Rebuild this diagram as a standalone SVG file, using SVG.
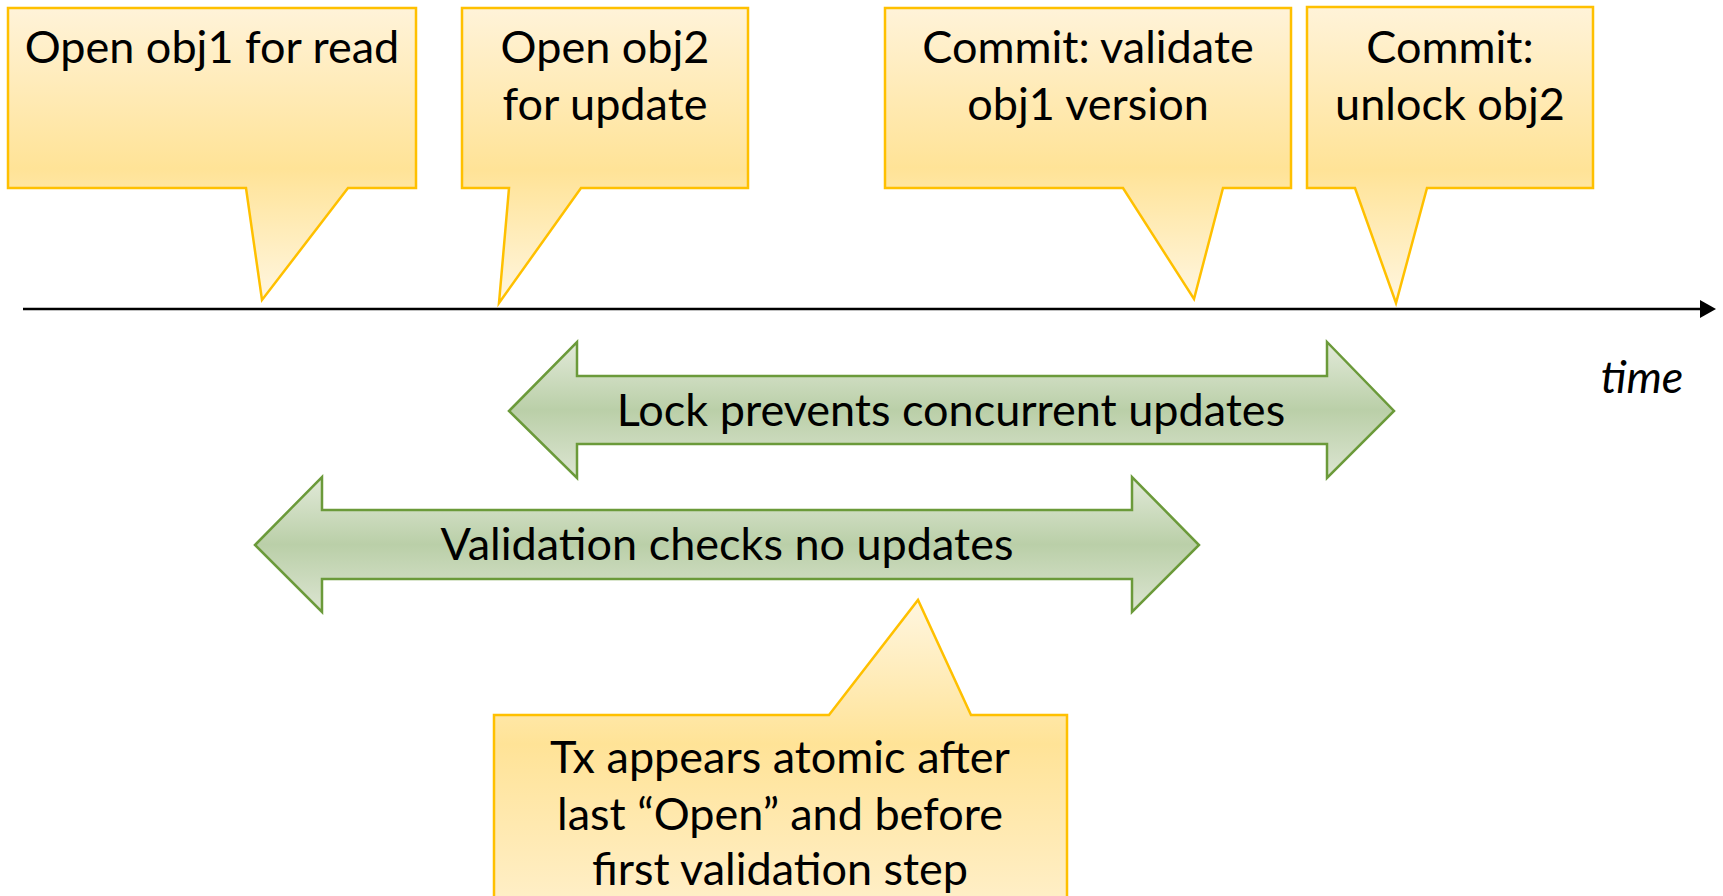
<svg xmlns="http://www.w3.org/2000/svg" width="1723" height="896" viewBox="0 0 1723 896">
<defs>
<linearGradient id="yel" x1="0" y1="0" x2="0" y2="1">
<stop offset="0" stop-color="#FFF3D9"/>
<stop offset="0.55" stop-color="#FFE397"/>
<stop offset="1" stop-color="#FFF6E0"/>
</linearGradient>
<linearGradient id="yel2" x1="0" y1="0" x2="0" y2="1">
<stop offset="0" stop-color="#FFF6E0"/>
<stop offset="0.4" stop-color="#FFE397"/>
<stop offset="1" stop-color="#FFF3D9"/>
</linearGradient>
<linearGradient id="grn" x1="0" y1="0" x2="0" y2="1">
<stop offset="0" stop-color="#E2EAD9"/>
<stop offset="0.5" stop-color="#BACFA8"/>
<stop offset="1" stop-color="#DCE5D2"/>
</linearGradient>
</defs>
<style>
.call{fill:url(#yel);stroke:#FFC000;stroke-width:2.5;stroke-linejoin:miter}
.call2{fill:url(#yel2);stroke:#FFC000;stroke-width:2.5}
.arr{fill:url(#grn);stroke:#6B9A3A;stroke-width:2.5}
.t{font-family:Lato,"Open Sans","Liberation Sans",sans-serif;font-size:45px;fill:#000;text-anchor:middle}
.ti{font-family:Lato,"Open Sans","Liberation Sans",sans-serif;font-size:45px;font-style:italic;fill:#000;text-anchor:middle}
</style>
<g id="connectors">
<line x1="23" y1="309" x2="1702" y2="309" stroke="#000" stroke-width="2.5"/>
<path d="M1700,300 L1716,309 L1700,318 Z" fill="#000"/>
</g>
<g id="c1">
<path class="call" d="M8,8 H416 V188 H348 L262,300 L246,188 H8 Z"/>
<text class="t" x="212" y="63">Open obj1 for read</text>
</g>
<g id="c2">
<path class="call" d="M462,8 H748 V188 H581 L499,303 L509,188 H462 Z"/>
<text class="t" x="605" y="63">Open obj2</text>
<text class="t" x="605" y="120">for update</text>
</g>
<g id="c3">
<path class="call" d="M885,8 H1291 V188 H1223 L1194,299 L1123,188 H885 Z"/>
<text class="t" x="1088" y="63">Commit: validate</text>
<text class="t" x="1088" y="120">obj1 version</text>
</g>
<g id="c4">
<path class="call" d="M1307,7 H1593 V188 H1427 L1396,303 L1355,188 H1307 Z"/>
<text class="t" x="1450" y="63">Commit:</text>
<text class="t" x="1450" y="120">unlock obj2</text>
</g>
<g id="time">
<text class="ti" x="1642" y="393">time</text>
</g>
<g id="lock">
<path class="arr" d="M509,411 L577,342 V376 H1327 V342 L1394,411 L1327,478 V444 H577 V478 Z"/>
<text class="t" x="951" y="426">Lock prevents concurrent updates</text>
</g>
<g id="valid">
<path class="arr" d="M255,545 L322,477 V510 H1132 V477 L1199,545 L1132,612 V579 H322 V612 Z"/>
<text class="t" x="727" y="560">Validation checks no updates</text>
</g>
<g id="atomic">
<path class="call2" d="M494,715 H829 L918,600 L971,715 H1067 V960 H494 Z"/>
<text class="t" x="780" y="773">Tx appears atomic after</text>
<text class="t" x="780" y="830">last “Open” and before</text>
<text class="t" x="780" y="885">first validation step</text>
</g>
</svg>
